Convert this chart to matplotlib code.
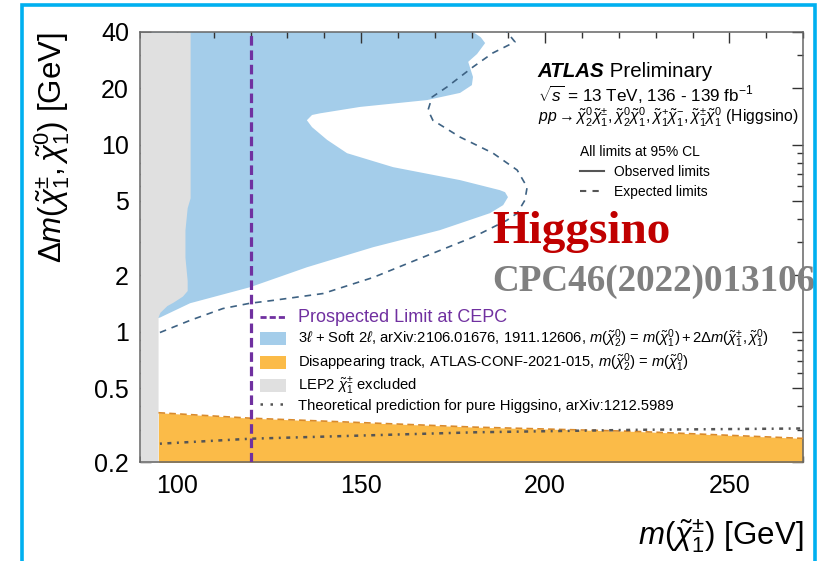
import matplotlib.pyplot as plt
from matplotlib.lines import Line2D
from matplotlib.patches import Patch, Rectangle
from matplotlib.ticker import FixedLocator, FixedFormatter, NullFormatter

plt.rcParams['font.family'] = ['Liberation Sans', 'DejaVu Sans']
plt.rcParams['mathtext.fontset'] = 'custom'
plt.rcParams['mathtext.rm'] = 'Liberation Sans'
plt.rcParams['mathtext.it'] = 'Liberation Sans:italic'
plt.rcParams['mathtext.bf'] = 'Liberation Sans:bold'

# LEP2 chargino exclusion: right edge of the grey band vs mass splitting
lep_dm = [0.2, 1.2, 1.27, 1.38, 1.44, 1.55, 1.66, 1.88, 2.5, 3.5, 4.6, 5.2, 40]
lep_edge = [94.9, 94.9, 95.4, 97.3, 99.0, 101.5, 102.8, 102.8, 102.2, 102.2, 102.8, 103.6, 103.6]

# 3l + soft 2l observed exclusion contour (closed polygon)
sl_m = [92, 180.4, 182.5, 183.7, 181.5, 179.1, 180.4, 180.1, 176.9, 167.9, 149.7,
        138.9, 136.7, 135.3, 136.7, 140.8, 146.2, 158.7, 176.9, 187.7, 189.1, 189.9,
        188.6, 185.0, 171.4, 153.3, 135.3, 119.9, 103.6, 95.4, 92]
sl_dm = [40, 40, 37.5, 34.9, 30.5, 27.7, 23.0, 20.8, 18.9, 17.3, 15.9,
         14.7, 14.4, 13.5, 12.4, 10.6, 9.0, 7.58, 6.46, 5.71, 5.57, 5.24,
         4.75, 4.30, 3.49, 2.83, 2.21, 1.73, 1.42, 1.19, 1.15]

# 3l + soft 2l expected limit
exp_m = [95.4, 103.6, 112.5, 119.9, 126.1, 139.7, 153.3, 166.8, 180.4, 189.6, 192.4,
         194.5, 195.1, 192.4, 185.8, 176.9, 169.5, 168.2, 169.3, 173.3, 180.4, 185.8,
         191.8, 189.6]
exp_dm = [0.99, 1.15, 1.33, 1.42, 1.47, 1.60, 1.95, 2.50, 3.20, 3.94, 4.30,
          5.05, 5.92, 7.31, 9.01, 10.97, 13.5, 15.3, 17.96, 20.3, 26.0, 30.9,
          35.4, 40]

# disappearing track exclusion (upper edge)
dt_m = [95, 120, 181, 225, 270]
dt_dm = [0.369, 0.345, 0.309, 0.293, 0.269]

# pure higgsino mass splitting prediction
th_m = [95.4, 120, 181, 225, 270]
th_dm = [0.252, 0.268, 0.290, 0.299, 0.304]

cepc_mass = 120

yticks = [0.2, 0.5, 1, 2, 5, 10, 20, 40]
ytick_labels = ['0.2', '0.5', '1', '2', '5', '10', '20', '40']
yminor = [0.3, 0.4, 0.6, 0.7, 0.8, 0.9, 3, 4, 6, 7, 8, 9, 30]

blue = '#a4cdea'
orange = '#fbbb48'
grey = '#e0e0e0'
purple = '#7030a0'
exp_col = '#3e6283'

fig = plt.figure(figsize=(8.31, 5.61), dpi=100)
ax = fig.add_axes([0.1685, 0.1756, 0.7978, 0.7674])

ax.fill(sl_m, sl_dm, color=blue, lw=0, zorder=1)
ax.fill_betweenx(lep_dm, 90, lep_edge, color=grey, lw=0, zorder=2)
ax.fill_between(dt_m, 0.2, dt_dm, color=orange, lw=0, zorder=2)
ax.plot(dt_m, dt_dm, color='#d98a2b', lw=1.2, dashes=(4, 2.5), zorder=3)
ax.plot(exp_m, exp_dm, color=exp_col, lw=1.2, dashes=(4, 3.5), zorder=3)
ax.plot(th_m, th_dm, color='#555555', lw=1.8, dashes=(0.8, 2.2, 1.6, 2.2), zorder=3)
ax.axvline(cepc_mass, color=purple, lw=2.3, dashes=(3, 1.5), zorder=4)

ax.set_xlim(90, 270)
ax.set_yscale('log')
ax.set_ylim(0.2, 40)
ax.xaxis.set_major_locator(FixedLocator([100, 150, 200, 250]))
ax.xaxis.set_minor_locator(FixedLocator(list(range(90, 271, 10))))
ax.yaxis.set_major_locator(FixedLocator(yticks))
ax.yaxis.set_major_formatter(FixedFormatter(ytick_labels))
ax.yaxis.set_minor_locator(FixedLocator(yminor))
ax.yaxis.set_minor_formatter(NullFormatter())
ax.tick_params(which='both', direction='in', top=True, right=True, labelsize=18,
               color='#333333')
ax.tick_params(which='major', length=8, width=1, pad=8)
ax.tick_params(which='minor', length=4.5, width=1)
for sp in ax.spines.values():
    sp.set_color('#666666')
    sp.set_linewidth(1.1)

ax.set_xlabel(r'$m(\tilde{\chi}_1^{\pm})$ [GeV]', fontsize=22.5, ha='right')
ax.xaxis.set_label_coords(1.0, -0.127)
ax.set_ylabel(r'$\Delta m(\tilde{\chi}_1^{\pm}, \tilde{\chi}_1^{0})$ [GeV]', fontsize=22.5,
              ha='right')
ax.yaxis.set_label_coords(-0.103, 1.0)

# experiment labels
t1 = ax.text(0.600, 0.8955, 'ATLAS', fontsize=14.8, fontweight='bold', style='italic',
             transform=ax.transAxes, va='baseline')
ax.annotate(' Preliminary', xy=(1, 0), xycoords=t1, fontsize=14.8, va='bottom')
ax.text(0.600, 0.8374, r'$\sqrt{s}$ = 13 TeV, 136 - 139 fb$^{-1}$', fontsize=12.3,
        transform=ax.transAxes, va='baseline')
ax.text(0.600, 0.7886,
        r'$pp \rightarrow \tilde{\chi}_2^0\tilde{\chi}_1^{\pm}, \tilde{\chi}_2^0\tilde{\chi}_1^0, '
        r'\tilde{\chi}_1^{+}\tilde{\chi}_1^{-}, \tilde{\chi}_1^{\pm}\tilde{\chi}_1^0$ (Higgsino)',
        fontsize=11.3, transform=ax.transAxes, va='baseline')

lim_handles = [Line2D([], [], color='#555555', lw=1.5),
               Line2D([], [], color='#555555', lw=1.5, dashes=(3, 3))]
leg2 = ax.legend(lim_handles, ['Observed limits', 'Expected limits'],
                 title='All limits at 95% CL', title_fontsize=10, fontsize=10,
                 loc='upper left', bbox_to_anchor=(0.6637, 0.737), frameon=False,
                 borderpad=0, borderaxespad=0, handlelength=1.75, handletextpad=0.7,
                 labelspacing=0.42)
leg2._legend_box.align = 'left'
ax.add_artist(leg2)

handles = [Line2D([], [], color=purple, lw=2, dashes=(2.2, 1.1)),
           Patch(facecolor=blue, lw=0),
           Patch(facecolor=orange, lw=0),
           Patch(facecolor=grey, lw=0),
           Line2D([], [], color='#555555', lw=1.8, dashes=(1, 3))]
labels = ['Prospected Limit at CEPC',
          r'$3\ell$ + Soft $2\ell$, arXiv:2106.01676, 1911.12606, '
          r'$m(\tilde{\chi}_2^0)$ = $m(\tilde{\chi}_1^0) + 2\Delta m(\tilde{\chi}_1^{\pm}, \tilde{\chi}_1^0)$',
          r'Disappearing track, ATLAS-CONF-2021-015, $m(\tilde{\chi}_2^0)$ = $m(\tilde{\chi}_1^0)$',
          r'LEP2 $\tilde{\chi}_1^{\pm}$ excluded',
          'Theoretical prediction for pure Higgsino, arXiv:1212.5989']
leg = ax.legend(handles, labels, loc='upper left', bbox_to_anchor=(0.181, 0.356),
                frameon=False, borderpad=0, borderaxespad=0, fontsize=10.6,
                handlelength=1.77, handleheight=0.95, handletextpad=0.8,
                labelspacing=0.1)
leg.get_texts()[0].set_color(purple)
leg.get_texts()[0].set_fontsize(13)

fig.text(0.592, 0.5668, 'Higgsino', family='Liberation Serif', fontweight='bold',
         fontsize=34, color='#c00000', va='baseline')
fig.text(0.592, 0.4813, 'CPC46(2022)013106', family='Liberation Serif',
         fontweight='bold', fontsize=26.7, color='#808080', va='baseline')

fig.add_artist(Rectangle((21.5 / 831, -0.1), (815 - 21.5) / 831, 0.9902 + 0.1,
                         transform=fig.transFigure, fill=False, ec='#00b0f0', lw=2.6,
                         zorder=10))

fig.savefig('out.png', dpi=100)
